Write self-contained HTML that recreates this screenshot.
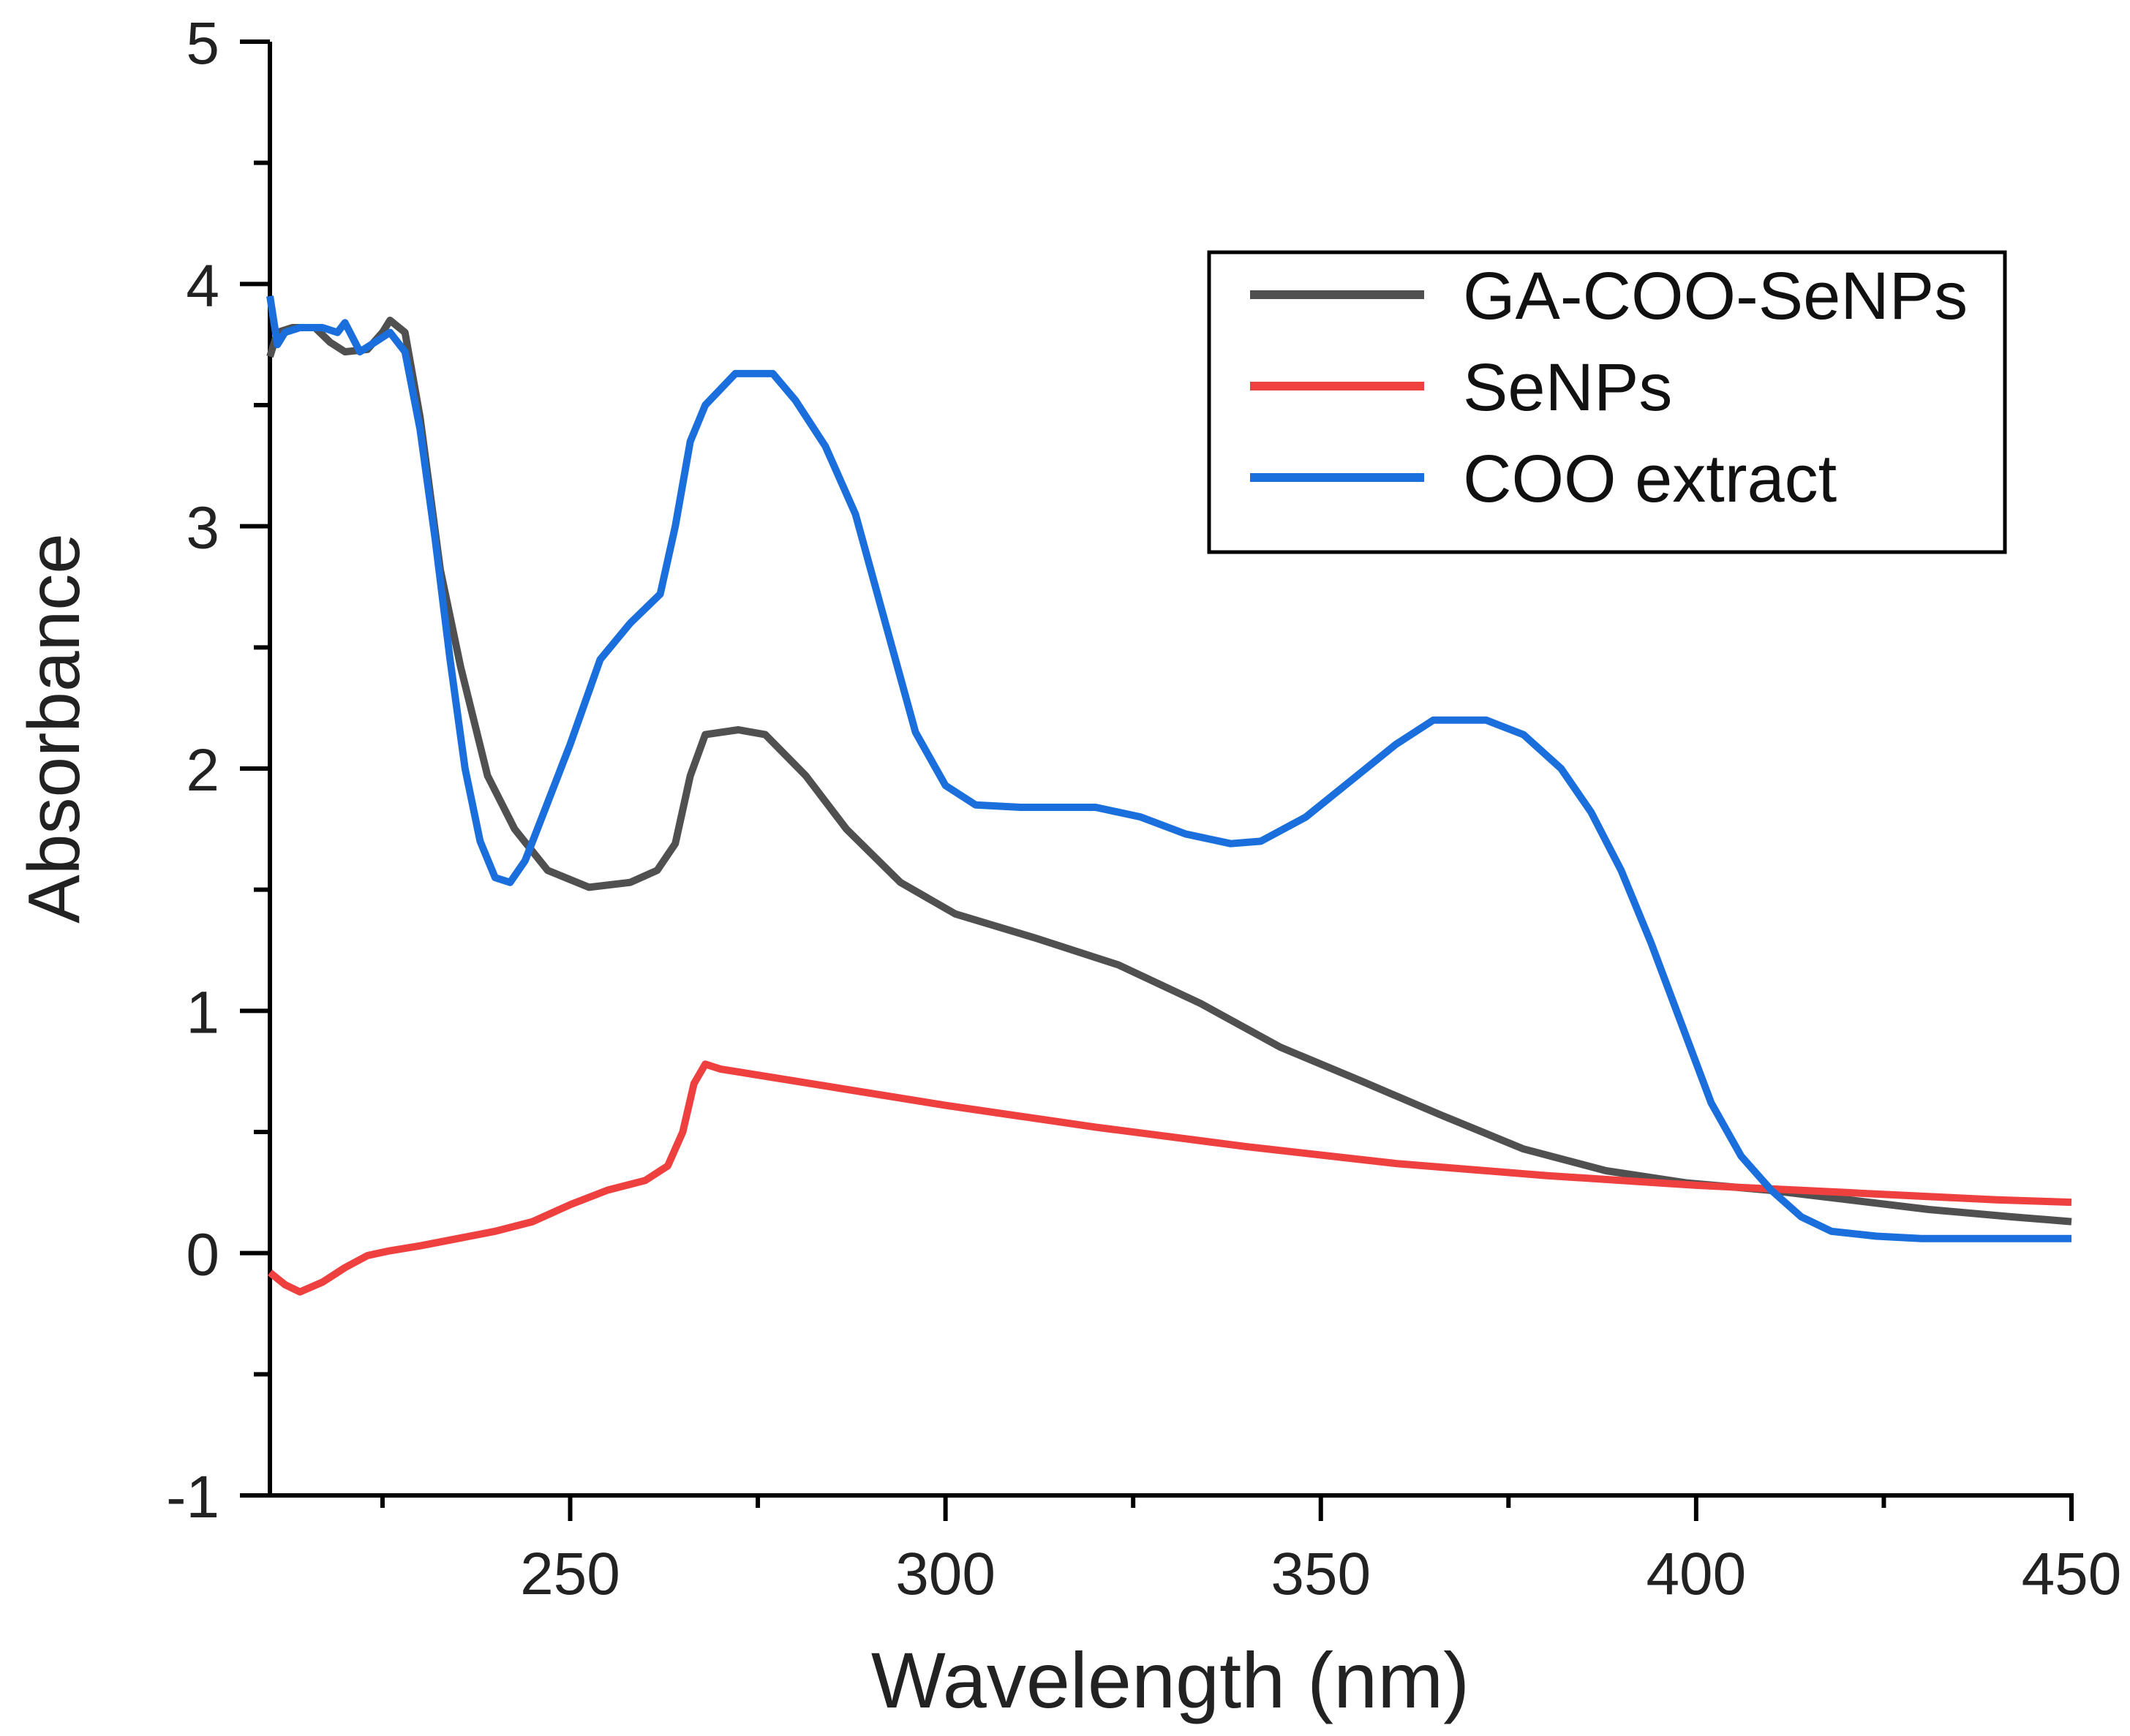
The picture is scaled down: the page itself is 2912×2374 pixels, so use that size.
<!DOCTYPE html>
<html><head><meta charset="utf-8"><style>
html,body{margin:0;padding:0;background:#fff;}
svg{display:block;font-family:"Liberation Sans",sans-serif;}
</style></head><body>
<svg id="chart" width="2912" height="2374" viewBox="0 0 2912 2374" xmlns="http://www.w3.org/2000/svg">
<g id="plot"></g>
</svg>
<script>
const xTicks = [250, 300, 350, 400, 450];
const yTicks = [-1, 0, 1, 2, 3, 4, 5];
const seriesNames = ["GA-COO-SeNPs", "SeNPs", "COO extract"];
const gaX = [210,211,213,216,218,220,223,225,226,228,230,232.7,235.4,239,242.6,247,252.5,258,261.6,264,266,268,272.4,276,281.4,286.8,294,301.3,312,323,334,344.6,355.4,366,377,388,398.7,409.6,420.4,431,442,450];
const gaY = [3.70,3.80,3.82,3.82,3.76,3.72,3.73,3.80,3.85,3.80,3.45,2.82,2.42,1.97,1.75,1.58,1.51,1.53,1.58,1.69,1.97,2.14,2.16,2.14,1.97,1.75,1.53,1.40,1.30,1.19,1.03,0.85,0.71,0.57,0.43,0.34,0.29,0.26,0.22,0.18,0.15,0.13];
const seX = [210,212,214,217,220,223,226,230,240,245,250,255,260,263,265,266.5,268,270,280,300,320,340,360,380,400,420,440,450];
const seY = [-0.08,-0.13,-0.16,-0.12,-0.06,-0.01,0.01,0.03,0.09,0.13,0.20,0.26,0.30,0.36,0.50,0.70,0.78,0.76,0.71,0.61,0.52,0.44,0.37,0.32,0.28,0.25,0.22,0.21];
const cooX = [210,211,212,214,217,219,220,222,224,226,228,230,232,234,236,238,240,242,244,246,250,254,258,262,264,266,268,272,277,280,284,288,292,296,300,304,310,320,326,332,338,342,348,354,360,365,372,377,382,386,390,394,398,402,406,410,414,418,424,430,450];
const cooY = [3.95,3.75,3.80,3.82,3.82,3.80,3.84,3.72,3.76,3.80,3.72,3.40,2.95,2.45,2.00,1.70,1.55,1.53,1.62,1.78,2.10,2.45,2.60,2.72,3.00,3.35,3.50,3.63,3.63,3.52,3.33,3.05,2.60,2.15,1.93,1.85,1.84,1.84,1.80,1.73,1.69,1.70,1.80,1.95,2.10,2.20,2.20,2.14,2.00,1.82,1.58,1.28,0.95,0.62,0.40,0.26,0.15,0.09,0.07,0.06,0.06];

const NS = "http://www.w3.org/2000/svg";
const X0 = 369, X1 = 2832, Y0 = 2045, Y1 = 57;
const xs = v => X0 + (v - 210) / (450 - 210) * (X1 - X0);
const ys = v => Y0 - (v + 1) / 6 * (Y0 - Y1);
const g = document.getElementById("plot");
function mk(tag, attrs, parent) {
  const e = document.createElementNS(NS, tag);
  for (const k in attrs) e.setAttribute(k, attrs[k]);
  (parent || g).appendChild(e);
  return e;
}
let e = mk("line", {x1: X0, y1: Y1, x2: X0, y2: Y0 + 3, stroke: "#000", "stroke-width": 6});


e = mk("line", {x1: X0 - 3, y1: Y0, x2: X1 + 3, y2: Y0, stroke: "#000", "stroke-width": 6});


for (let v = -1; v <= 5.001; v += 0.5) {
  const major = Math.abs(v - Math.round(v)) < 1e-6;
  e = mk("line", {x1: X0 - (major ? 41 : 22), y1: ys(v), x2: X0, y2: ys(v), stroke: "#000", "stroke-width": 6});
  
  
}
yTicks.forEach(v => {
  const t = mk("text", {x: 300, y: ys(v) + 30, "text-anchor": "end", "font-size": 82, fill: "#222"});
  t.textContent = String(v);
  
  
});
for (let v = 225; v <= 450; v += 25) {
  const major = v % 50 === 0;
  e = mk("line", {x1: xs(v), y1: Y0, x2: xs(v), y2: Y0 + (major ? 35 : 17), stroke: "#000", "stroke-width": 6});
  
  
}
xTicks.forEach(v => {
  const t = mk("text", {x: xs(v), y: 2180, "text-anchor": "middle", "font-size": 82, fill: "#222"});
  t.textContent = String(v);
  
  
});
let t = mk("text", {x: 1600, y: 2335, "text-anchor": "middle", "font-size": 108, fill: "#222"});
t.textContent = "Wavelength (nm)";


t = mk("text", {x: 0, y: 0, "text-anchor": "middle", "font-size": 100, fill: "#222", transform: "translate(108,996) rotate(-90)"});
t.textContent = "Absorbance";


const colors = ["#505050", "#ef4040", "#1a6fdc"];
const sx = [gaX, seX, cooX], sy = [gaY, seY, cooY];
[0, 1, 2].forEach(i => {
  const d = sx[i].map((v, j) => (j ? "L" : "M") + xs(v).toFixed(1) + "," + ys(sy[i][j]).toFixed(1)).join("");
  const p = mk("path", {d: d, fill: "none", stroke: colors[i], "stroke-width": 10, "stroke-linejoin": "round"});
  
  
});
const lg = mk("g", {});


e = mk("rect", {x: 1653, y: 345, width: 1088, height: 410, fill: "#fff", stroke: "#000", "stroke-width": 5}, lg);


const ly = [403, 528, 653];
seriesNames.forEach((n, i) => {
  e = mk("line", {x1: 1709, y1: ly[i], x2: 1947, y2: ly[i], stroke: colors[i], "stroke-width": 12}, lg);
  
  
  const tx = mk("text", {x: 2000, y: ly[i] + 33, "font-size": 92, fill: "#111"}, lg);
  tx.textContent = n;
  
  
});
</script>
</body></html>
